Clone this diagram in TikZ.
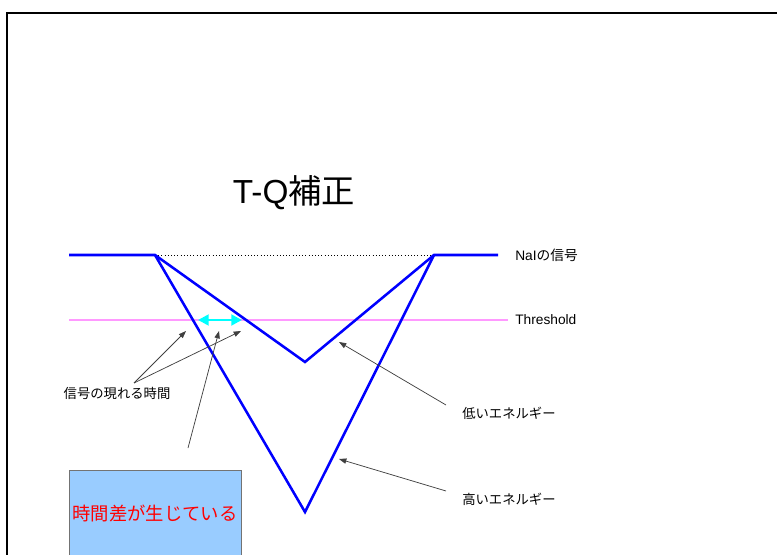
\documentclass[tikz,border=0pt]{standalone}
\usepackage{fontspec}
\setmainfont{Liberation Sans}
\newfontfamily\jp{Noto Sans CJK JP}
\usetikzlibrary{arrows.meta}
\definecolor{sigblue}{RGB}{0,0,255}
\definecolor{thpink}{RGB}{255,153,255}
\definecolor{boxblue}{RGB}{153,204,255}
\definecolor{tdiff}{RGB}{0,255,255}
\begin{document}
\begin{tikzpicture}[x=0.75pt,y=-0.75pt,
  sig/.style={draw=sigblue, line width=1.9pt, line join=miter},
  thline/.style={draw=thpink, line width=1.5pt},
  pointer/.style={draw=black!75, line width=0.55pt, -{Triangle[length=5.5pt,width=4pt]}},
  lbl/.style={font=\fontsize{10.3}{12}\selectfont, inner sep=0pt},
  frame/.style={draw=black, line width=1pt}]
\useasboundingbox (0,0) rectangle (777,555);
% frame
\draw[frame] (7,560) -- (7,13) -- (782,13);
% signal vertices
\coordinate (L0) at (69,255);
\coordinate (A) at (155,255);
\coordinate (B) at (434,255);
\coordinate (R0) at (498,255);
\coordinate (lowV) at (305,362);
\coordinate (highV) at (305,512);
\coordinate (thL) at (69,320);
\coordinate (thR) at (508,320);
% box
\path[draw=black!55, fill=boxblue, line width=0.6pt] (69,470) rectangle (241,600);
\node[text=red, font=\jp\fontsize{13.75}{16}\selectfont, inner sep=0pt] (diff) at (155,513) {時間差が生じている};
% lines
\draw[black, dotted, line width=0.4pt] (A) -- (B);
\draw[thline] (thL) -- (thR);
\draw[sig] (L0) -- (A) -- (lowV) -- (B) -- (R0);
\draw[sig] (A) -- (highV) -- (B);
% time difference arrow
\coordinate (d1) at (198,320);
\coordinate (d2) at (242,320);
\draw[draw=tdiff, line width=2.2pt, {Triangle[length=8pt,width=8pt]}-{Triangle[length=8pt,width=8pt]}] (d1) -- (d2);
% labels
\node[lbl, anchor=west] (nai) at (515,255) {NaI{\jp の信号}};
\node[lbl, anchor=west] (thr) at (515,320) {Threshold};
\node[inner sep=0pt, font=\fontsize{25}{28}\selectfont] (title) at (294,193) {T-Q{\jp 補正}};
\node[lbl, font=\jp\fontsize{10}{12}\selectfont] (sigt) at (117,393) {信号の現れる時間};
\node[lbl, font=\jp\fontsize{10}{12}\selectfont, anchor=west] (low) at (462,413) {低いエネルギー};
\node[lbl, font=\jp\fontsize{10}{12}\selectfont, anchor=west] (high) at (462,499) {高いエネルギー};
% pointers
\coordinate (s1) at (134,383);
\coordinate (t1) at (186,331);
\coordinate (t2) at (241,331);
\coordinate (s2) at (188,448);
\coordinate (t3) at (219,331);
\coordinate (sl) at (446,405);
\coordinate (tl) at (339,342);
\coordinate (sh) at (446,491);
\coordinate (th) at (339,459);
\draw[pointer] (s1) -- (t1);
\draw[pointer] (s1) -- (t2);
\draw[pointer] (s2) -- (t3);
\draw[pointer] (sl) -- (tl);
\draw[pointer] (sh) -- (th);
\end{tikzpicture}
\end{document}
